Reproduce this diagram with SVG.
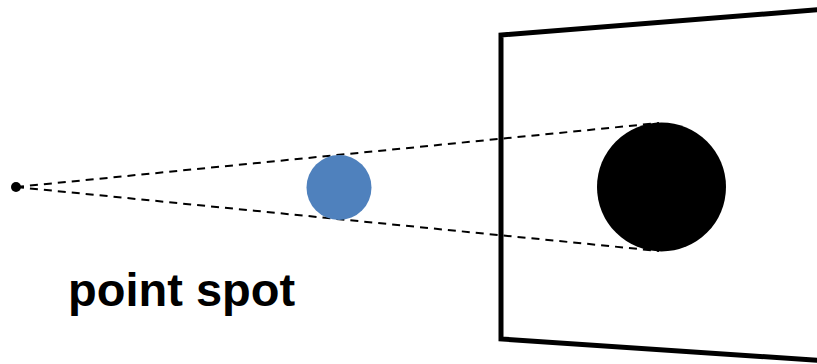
<svg xmlns="http://www.w3.org/2000/svg" width="817" height="364" viewBox="0 0 817 364">
  <style>
    .ray { stroke: #000; stroke-width: 2; stroke-dasharray: 8 6; fill: none; }
    .screen { stroke: #000; stroke-width: 5; fill: none; stroke-linejoin: miter; }
    .label { font-family: "Liberation Sans", Arial, sans-serif; font-weight: bold; font-size: 47px; fill: #000; }
  </style>
  <rect width="817" height="364" fill="#fff"/>
  <g id="screen">
    <polyline class="screen" points="820,9.5 501,35 501,339 820,360.5"/>
  </g>
  <g id="connectors">
    <line class="ray" x1="16" y1="187" x2="659" y2="123"/>
    <line class="ray" x1="16" y1="187" x2="659" y2="251"/>
  </g>
  <g id="light-source">
    <circle cx="16" cy="187" r="5" fill="#000"/>
  </g>
  <g id="occluder">
    <circle cx="339" cy="187.5" r="32.5" fill="#4f81bd"/>
  </g>
  <g id="shadow">
    <circle cx="661.5" cy="187" r="64.5" fill="#000"/>
  </g>
  <g id="caption">
    <text class="label" x="68" y="306">point spot</text>
  </g>
</svg>
